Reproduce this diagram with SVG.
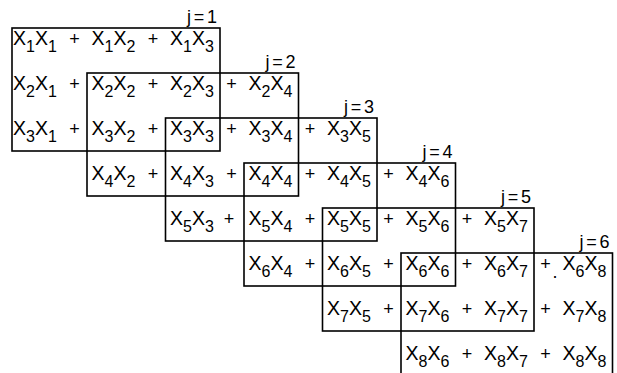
<svg xmlns="http://www.w3.org/2000/svg" width="617" height="373" viewBox="0 0 617 373">
<style>
.t{font-family:"Liberation Sans",Arial,sans-serif;font-size:19.5px;fill:#000}
.s{font-size:16px}
.p{font-family:"Liberation Sans",Arial,sans-serif;font-size:18px;fill:#000;text-anchor:middle}
.j{font-family:"Liberation Sans",Arial,sans-serif;font-size:18px;fill:#000}
.w{fill:none;stroke:#000;stroke-width:1.6}
</style>
<rect width="617" height="373" fill="#fff"/>
<g id="connectors">
<g id="window-j1"><rect class="w" x="12" y="28" width="208" height="123"/><text class="j" x="187" y="23" textLength="30" lengthAdjust="spacing">j=1</text></g>
<g id="window-j2"><rect class="w" x="87" y="73" width="211.5" height="123"/><text class="j" x="265.5" y="68" textLength="30" lengthAdjust="spacing">j=2</text></g>
<g id="window-j3"><rect class="w" x="165.5" y="118" width="211.5" height="123"/><text class="j" x="344" y="113" textLength="30" lengthAdjust="spacing">j=3</text></g>
<g id="window-j4"><rect class="w" x="244" y="163" width="211.5" height="123"/><text class="j" x="422.5" y="158" textLength="30" lengthAdjust="spacing">j=4</text></g>
<g id="window-j5"><rect class="w" x="322.5" y="208" width="211.5" height="123"/><text class="j" x="501" y="203" textLength="30" lengthAdjust="spacing">j=5</text></g>
<g id="window-j6"><rect class="w" x="401" y="253" width="211.5" height="123"/><text class="j" x="579.5" y="248" textLength="30" lengthAdjust="spacing">j=6</text></g>
</g>
<g id="row-1">
<text class="t" x="13" y="45">X<tspan class="s" dy="7">1</tspan><tspan dy="-7">X</tspan><tspan class="s" dy="7">1</tspan></text>
<text class="p" x="74.5" y="45">+</text>
<text class="t" x="91.5" y="45">X<tspan class="s" dy="7">1</tspan><tspan dy="-7">X</tspan><tspan class="s" dy="7">2</tspan></text>
<text class="p" x="153" y="45">+</text>
<text class="t" x="170" y="45">X<tspan class="s" dy="7">1</tspan><tspan dy="-7">X</tspan><tspan class="s" dy="7">3</tspan></text>
</g>
<g id="row-2">
<text class="t" x="13" y="90">X<tspan class="s" dy="7">2</tspan><tspan dy="-7">X</tspan><tspan class="s" dy="7">1</tspan></text>
<text class="p" x="74.5" y="90">+</text>
<text class="t" x="91.5" y="90">X<tspan class="s" dy="7">2</tspan><tspan dy="-7">X</tspan><tspan class="s" dy="7">2</tspan></text>
<text class="p" x="153" y="90">+</text>
<text class="t" x="170" y="90">X<tspan class="s" dy="7">2</tspan><tspan dy="-7">X</tspan><tspan class="s" dy="7">3</tspan></text>
<text class="p" x="231.5" y="90">+</text>
<text class="t" x="248.5" y="90">X<tspan class="s" dy="7">2</tspan><tspan dy="-7">X</tspan><tspan class="s" dy="7">4</tspan></text>
</g>
<g id="row-3">
<text class="t" x="13" y="135">X<tspan class="s" dy="7">3</tspan><tspan dy="-7">X</tspan><tspan class="s" dy="7">1</tspan></text>
<text class="p" x="74.5" y="135">+</text>
<text class="t" x="91.5" y="135">X<tspan class="s" dy="7">3</tspan><tspan dy="-7">X</tspan><tspan class="s" dy="7">2</tspan></text>
<text class="p" x="153" y="135">+</text>
<text class="t" x="170" y="135">X<tspan class="s" dy="7">3</tspan><tspan dy="-7">X</tspan><tspan class="s" dy="7">3</tspan></text>
<text class="p" x="231.5" y="135">+</text>
<text class="t" x="248.5" y="135">X<tspan class="s" dy="7">3</tspan><tspan dy="-7">X</tspan><tspan class="s" dy="7">4</tspan></text>
<text class="p" x="310" y="135">+</text>
<text class="t" x="327" y="135">X<tspan class="s" dy="7">3</tspan><tspan dy="-7">X</tspan><tspan class="s" dy="7">5</tspan></text>
</g>
<g id="row-4">
<text class="t" x="91.5" y="180">X<tspan class="s" dy="7">4</tspan><tspan dy="-7">X</tspan><tspan class="s" dy="7">2</tspan></text>
<text class="p" x="153" y="180">+</text>
<text class="t" x="170" y="180">X<tspan class="s" dy="7">4</tspan><tspan dy="-7">X</tspan><tspan class="s" dy="7">3</tspan></text>
<text class="p" x="231.5" y="180">+</text>
<text class="t" x="248.5" y="180">X<tspan class="s" dy="7">4</tspan><tspan dy="-7">X</tspan><tspan class="s" dy="7">4</tspan></text>
<text class="p" x="310" y="180">+</text>
<text class="t" x="327" y="180">X<tspan class="s" dy="7">4</tspan><tspan dy="-7">X</tspan><tspan class="s" dy="7">5</tspan></text>
<text class="p" x="388.5" y="180">+</text>
<text class="t" x="405.5" y="180">X<tspan class="s" dy="7">4</tspan><tspan dy="-7">X</tspan><tspan class="s" dy="7">6</tspan></text>
</g>
<g id="row-5">
<text class="t" x="170" y="225">X<tspan class="s" dy="7">5</tspan><tspan dy="-7">X</tspan><tspan class="s" dy="7">3</tspan></text>
<text class="p" x="229" y="225">+</text>
<text class="t" x="248.5" y="225">X<tspan class="s" dy="7">5</tspan><tspan dy="-7">X</tspan><tspan class="s" dy="7">4</tspan></text>
<text class="p" x="310" y="225">+</text>
<text class="t" x="327" y="225">X<tspan class="s" dy="7">5</tspan><tspan dy="-7">X</tspan><tspan class="s" dy="7">5</tspan></text>
<text class="p" x="388.5" y="225">+</text>
<text class="t" x="405.5" y="225">X<tspan class="s" dy="7">5</tspan><tspan dy="-7">X</tspan><tspan class="s" dy="7">6</tspan></text>
<text class="p" x="467" y="225">+</text>
<text class="t" x="484" y="225">X<tspan class="s" dy="7">5</tspan><tspan dy="-7">X</tspan><tspan class="s" dy="7">7</tspan></text>
</g>
<g id="row-6">
<text class="t" x="248.5" y="270">X<tspan class="s" dy="7">6</tspan><tspan dy="-7">X</tspan><tspan class="s" dy="7">4</tspan></text>
<text class="p" x="310" y="270">+</text>
<text class="t" x="327" y="270">X<tspan class="s" dy="7">6</tspan><tspan dy="-7">X</tspan><tspan class="s" dy="7">5</tspan></text>
<text class="p" x="388.5" y="270">+</text>
<text class="t" x="405.5" y="270">X<tspan class="s" dy="7">6</tspan><tspan dy="-7">X</tspan><tspan class="s" dy="7">6</tspan></text>
<text class="p" x="467" y="270">+</text>
<text class="t" x="484" y="270">X<tspan class="s" dy="7">6</tspan><tspan dy="-7">X</tspan><tspan class="s" dy="7">7</tspan></text>
<text class="p" x="545.5" y="270">+</text>
<text class="p" x="555" y="278">.</text>
<text class="t" x="562.5" y="270">X<tspan class="s" dy="7">6</tspan><tspan dy="-7">X</tspan><tspan class="s" dy="7">8</tspan></text>
</g>
<g id="row-7">
<text class="t" x="327" y="315">X<tspan class="s" dy="7">7</tspan><tspan dy="-7">X</tspan><tspan class="s" dy="7">5</tspan></text>
<text class="p" x="388.5" y="315">+</text>
<text class="t" x="405.5" y="315">X<tspan class="s" dy="7">7</tspan><tspan dy="-7">X</tspan><tspan class="s" dy="7">6</tspan></text>
<text class="p" x="467" y="315">+</text>
<text class="t" x="484" y="315">X<tspan class="s" dy="7">7</tspan><tspan dy="-7">X</tspan><tspan class="s" dy="7">7</tspan></text>
<text class="p" x="545.5" y="315">+</text>
<text class="t" x="562.5" y="315">X<tspan class="s" dy="7">7</tspan><tspan dy="-7">X</tspan><tspan class="s" dy="7">8</tspan></text>
</g>
<g id="row-8">
<text class="t" x="405.5" y="360">X<tspan class="s" dy="7">8</tspan><tspan dy="-7">X</tspan><tspan class="s" dy="7">6</tspan></text>
<text class="p" x="467" y="360">+</text>
<text class="t" x="484" y="360">X<tspan class="s" dy="7">8</tspan><tspan dy="-7">X</tspan><tspan class="s" dy="7">7</tspan></text>
<text class="p" x="545.5" y="360">+</text>
<text class="t" x="562.5" y="360">X<tspan class="s" dy="7">8</tspan><tspan dy="-7">X</tspan><tspan class="s" dy="7">8</tspan></text>
</g>
</svg>
